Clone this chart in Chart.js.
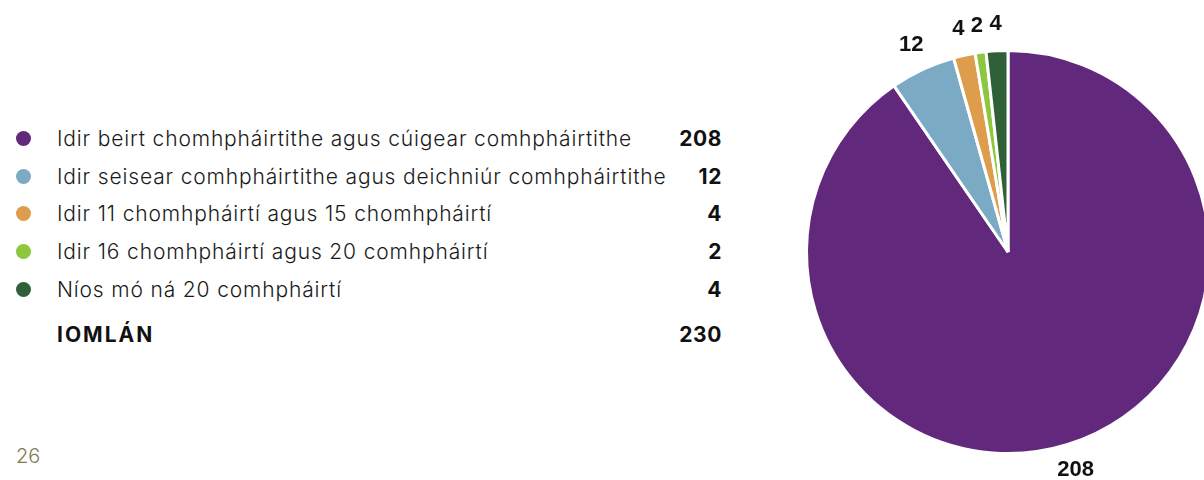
<!DOCTYPE html>
<html>
<head>
<meta charset="utf-8">
<script src="https://cdn.jsdelivr.net/npm/chart.js@4/dist/chart.umd.min.js"></script>
<style>
html,body{margin:0;padding:0;width:1204px;height:480px;overflow:hidden;background:#fff;}
body{position:relative;font-family:"Inter",sans-serif;color:#1a1a1a;}
#legend{position:absolute;left:16px;top:120px;width:706px;}
.row{display:flex;align-items:center;height:37.6px;font-size:21px;font-weight:300;}
.dot{width:15px;height:15px;border-radius:50%;margin-right:26px;flex:none;}
.lbl{flex:1;white-space:nowrap;letter-spacing:0.85px;}
.val{font-weight:bold;font-size:21px;letter-spacing:0.6px;text-align:right;color:#111;}
.total{margin-top:8px;}
.total .lbl{padding-left:41px;font-weight:bold;letter-spacing:2px;color:#111;}
#page{position:absolute;left:16px;top:444px;font-size:20px;font-weight:300;color:#7d7d52;}
#wrap{position:absolute;left:758px;top:0;width:500px;height:480px;}
</style>
</head>
<body>
<div id="legend"></div>
<div id="page">26</div>
<div id="wrap"><canvas id="pie"></canvas></div>
<script>
/*========== Data ==========*/

const labels=[
    "Idir beirt chomhpháirtithe agus cúigear comhpháirtithe",
    "Idir seisear comhpháirtithe agus deichniúr comhpháirtithe",
    "Idir 11 chomhpháirtí agus 15 chomhpháirtí",
    "Idir 16 chomhpháirtí agus 20 comhpháirtí",
    "Níos mó ná 20 comhpháirtí"
];
const values=[208,12,4,2,4];
const colors=["#62287c","#7baac5","#dd9d4c","#8dc63f","#2f6038"];
const totalLabel="IOMLÁN";

const $=id=>document.getElementById(id);

/*========== Legend ==========*/

function buildLegend(){
    const total=values.reduce((a,b)=>a+b,0);
    const rows=labels.map((l,i)=>`
        <div class="row">
            <div class="dot" style="background:${colors[i]}"></div>
            <div class="lbl">${l}</div>
            <div class="val">${values[i]}</div>
        </div>`).join("");
    $("legend").innerHTML=rows+`
        <div class="row total">
            <div class="lbl">${totalLabel}</div>
            <div class="val">${total}</div>
        </div>`;
}

/*========== Slice labels ==========*/

const sliceLabels={
    id:"sliceLabels",
    afterDraw(chart){
        const ctx=chart.ctx;
        const meta=chart.getDatasetMeta(0);
        ctx.save();
        ctx.font="bold 22px 'Liberation Sans', sans-serif";
        ctx.fillStyle="#111";
        ctx.textAlign="center";
        ctx.textBaseline="middle";
        meta.data.forEach((arc,i)=>{
            const p=arc.getProps(["x","y","startAngle","endAngle","outerRadius"],true);
            const mid=(p.startAngle+p.endAngle)/2;
            const r=p.outerRadius+27;
            ctx.fillText(values[i],p.x+Math.cos(mid)*r,p.y+Math.sin(mid)*r);
        });
        ctx.restore();
    }
};

/*========== Chart ==========*/

function drawPie(){
    new Chart($("pie"),{
        type:"pie",
        data:{labels:labels,datasets:[{data:values,backgroundColor:colors,borderColor:"#fff",borderWidth:3}]},
        options:{
            responsive:true,maintainAspectRatio:false,animation:false,
            layout:{padding:{top:49,bottom:25,left:47,right:47}},
            plugins:{legend:{display:false},tooltip:{enabled:false}}
        },
        plugins:[sliceLabels]
    });
}

buildLegend();
drawPie();
</script>
</body>
</html>
